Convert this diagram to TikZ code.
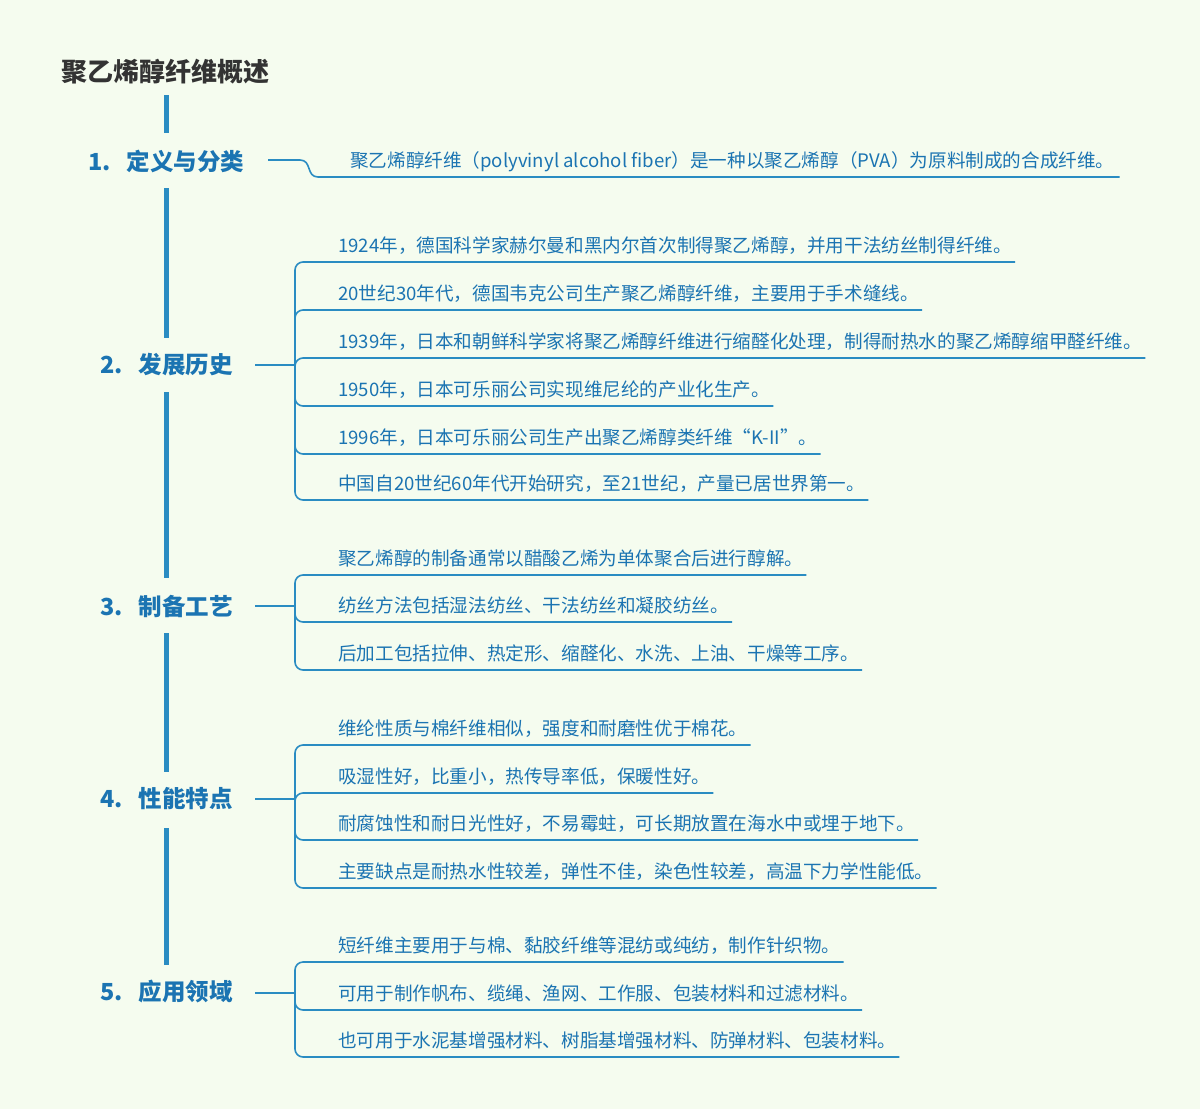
\documentclass[tikz,border=0pt]{standalone}
\usepackage{fontspec}
\setmainfont{Noto Sans CJK SC}
\definecolor{bg}{HTML}{F5FCEF}
\definecolor{ln}{HTML}{2A8CC2}
\definecolor{tx}{HTML}{1B74B2}
\definecolor{ttl}{HTML}{333333}
\begin{document}
\begin{tikzpicture}[x=1pt,y=-1pt,
  leaf/.style={anchor=south west,inner xsep=3pt,inner ysep=2pt,text depth=7.5pt,text=tx,font=\fontsize{18.6}{21}\selectfont},
  head/.style={anchor=west,inner sep=0pt,text=tx,font=\fontsize{23.5}{26}\selectfont\bfseries},
  conn/.style={draw=ln,line width=1.6pt,rounded corners=8pt},
  trunk/.style={draw=ln,line width=5pt}]
\fill[bg] (0,0) rectangle (1200,1109);
\useasboundingbox (0,0) rectangle (1200,1109);
\node[anchor=west,inner sep=0pt,text=ttl,font=\fontsize{26}{28}\selectfont\bfseries] (title) at (61,72) {聚乙烯醇纤维概述};
\foreach \a/\b in {95/133,188/338,392/578,633/772,828/965}
  \draw[trunk] (166,\a) -- (166,\b);
% headings
\node[head] (h1) at (88,161) {1.\ \ \ 定义与分类};
\node[head] (h2) at (100,365) {2.\ \ \ 发展历史};
\node[head] (h3) at (100,606) {3.\ \ \ 制备工艺};
\node[head] (h4) at (100,799) {4.\ \ \ 性能特点};
\node[head] (h5) at (100,992) {5.\ \ \ 应用领域};
% group 1
\node[leaf,inner xsep=5pt] (a1) at (345,177) {聚乙烯醇纤维（polyvinyl alcohol fiber）是一种以聚乙烯醇（PVA）为原料制成的合成纤维。};
\draw[draw=ln,line width=1.6pt] (268,160) -- (300,160) .. controls (312,160) and (306,177) .. (318,177) -- (a1.south west) -- (a1.south east);
% group 2
\foreach \y/\n/\t in {262/b1/{1924年，德国科学家赫尔曼和黑内尔首次制得聚乙烯醇，并用干法纺丝制得纤维。},
 310/b2/{20世纪30年代，德国韦克公司生产聚乙烯醇纤维，主要用于手术缝线。},
 358/b3/{1939年，日本和朝鲜科学家将聚乙烯醇纤维进行缩醛化处理，制得耐热水的聚乙烯醇缩甲醛纤维。},
 406/b4/{1950年，日本可乐丽公司实现维尼纶的产业化生产。},
 454/b5/{1996年，日本可乐丽公司生产出聚乙烯醇类纤维“K-II”。},
 500/b6/{中国自20世纪60年代开始研究，至21世纪，产量已居世界第一。}}
{\node[leaf] (\n) at (335,\y) {\t};
 \draw[conn] (295,365) -- (295,\y) -- (\n.south west) -- (\n.south east);}
\draw[conn] (255,365) -- (295,365);
% group 3
\foreach \y/\n/\t in {575/c1/{聚乙烯醇的制备通常以醋酸乙烯为单体聚合后进行醇解。},
 622/c2/{纺丝方法包括湿法纺丝、干法纺丝和凝胶纺丝。},
 670/c3/{后加工包括拉伸、热定形、缩醛化、水洗、上油、干燥等工序。}}
{\node[leaf] (\n) at (335,\y) {\t};
 \draw[conn] (295,606) -- (295,\y) -- (\n.south west) -- (\n.south east);}
\draw[conn] (255,606) -- (295,606);
% group 4
\foreach \y/\n/\t in {745/d1/{维纶性质与棉纤维相似，强度和耐磨性优于棉花。},
 793/d2/{吸湿性好，比重小，热传导率低，保暖性好。},
 840/d3/{耐腐蚀性和耐日光性好，不易霉蛀，可长期放置在海水中或埋于地下。},
 888/d4/{主要缺点是耐热水性较差，弹性不佳，染色性较差，高温下力学性能低。}}
{\node[leaf] (\n) at (335,\y) {\t};
 \draw[conn] (295,799) -- (295,\y) -- (\n.south west) -- (\n.south east);}
\draw[conn] (255,799) -- (295,799);
% group 5
\foreach \y/\n/\t in {962/e1/{短纤维主要用于与棉、黏胶纤维等混纺或纯纺，制作针织物。},
 1010/e2/{可用于制作帆布、缆绳、渔网、工作服、包装材料和过滤材料。},
 1057/e3/{也可用于水泥基增强材料、树脂基增强材料、防弹材料、包装材料。}}
{\node[leaf] (\n) at (335,\y) {\t};
 \draw[conn] (295,993) -- (295,\y) -- (\n.south west) -- (\n.south east);}
\draw[conn] (255,993) -- (295,993);
\end{tikzpicture}
\end{document}
